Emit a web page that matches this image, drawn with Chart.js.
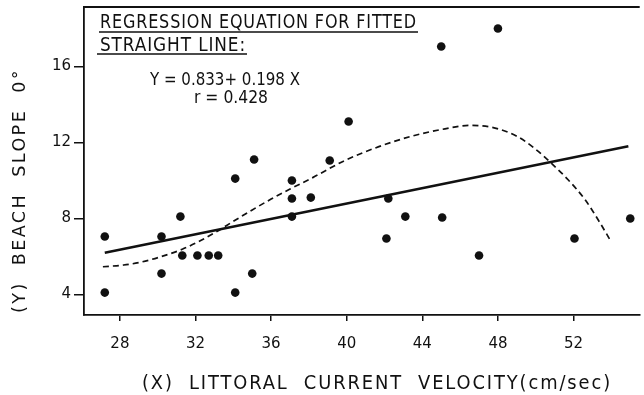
<!DOCTYPE html>
<html>
<head>
<meta charset="utf-8">
<script src="https://cdn.jsdelivr.net/npm/chart.js@4.4.1/dist/chart.umd.min.js"></script>
<style>
  html, body { margin: 0; padding: 0; background: #fff; }
  #wrap { width: 644px; height: 395px; }
</style>
</head>
<body>
<div id="wrap"><canvas id="chart"></canvas></div>
<script>
// observed beach slope vs littoral current velocity
const velocity = [27.2, 27.2, 30.2, 30.2, 31.2, 31.3, 32.1, 32.7, 33.2, 34.1, 34.1, 35.0, 35.1, 37.1,
  37.1, 37.1, 38.1, 39.1, 40.1, 42.1, 42.2, 43.1, 45.0, 45.05, 47.0, 48.0, 52.05, 55.0];
const slope = [7.05, 4.1, 7.05, 5.1, 8.1, 6.05, 6.05, 6.05, 6.05, 4.1, 10.1, 5.1, 11.1, 10.0,
  9.05, 8.1, 9.1, 11.05, 13.1, 6.95, 9.05, 8.1, 17.05, 8.05, 6.05, 18.0, 6.95, 8.0];

// fitted straight line, end points as drawn
const lineX = [27.2, 54.9];
const lineY = [6.2, 11.8];

// dashed curve
const curveX = [27.1, 28.2, 29.1, 30.2, 31.3, 32.2, 33.1, 34.0, 35.0, 36.0, 37.0, 38.2, 39.9,
  41.7, 43.4, 45.2, 46.5, 47.8, 49.0, 49.9, 50.8, 51.7, 52.6, 53.4, 53.9];
const curveY = [5.46, 5.55, 5.7, 6.0, 6.38, 6.8, 7.3, 7.85, 8.45, 9.02, 9.55, 10.15, 11.05,
  11.78, 12.32, 12.72, 12.9, 12.77, 12.33, 11.72, 10.93, 10.05, 9.0, 7.77, 6.93];

const xTicks = [28, 32, 36, 40, 44, 48, 52];
const yTicks = [4, 8, 12, 16];

const xTitle = '(X)  LITTORAL  CURRENT  VELOCITY(cm/sec)';
const yTitle = '(Y)  BEACH  SLOPE  0\u00B0';
const boxLines = ['REGRESSION EQUATION FOR FITTED', 'STRAIGHT LINE:', 'Y = 0.833+ 0.198 X', 'r = 0.428'];

const ink = '#111';
const face = '"DejaVu Sans", sans-serif';

const toXY = (xs, ys) => xs.map((x, i) => ({x, y: ys[i]}));

// titles and the equation box, drawn like the hand lettering of the original
const paperText = {
  id: 'paperText',
  afterDraw(chart) {
    const {ctx, chartArea: a} = chart;
    ctx.save();
    ctx.fillStyle = ink;
    ctx.strokeStyle = ink;

    // top frame line
    ctx.lineWidth = 1.8;
    ctx.beginPath();
    ctx.moveTo(a.left, a.top);
    ctx.lineTo(a.right, a.top);
    ctx.stroke();

    ctx.textBaseline = 'alphabetic';
    ctx.textAlign = 'left';
    ctx.letterSpacing = '1px';
    ctx.font = '19px ' + face;
    ctx.fillText(boxLines[0], a.left + 16, a.top + 21, 317);
    ctx.fillText(boxLines[1], a.left + 16, a.top + 44, 146);
    ctx.lineWidth = 1.3;
    ctx.beginPath();
    ctx.moveTo(a.left + 15, a.top + 25);
    ctx.lineTo(a.left + 334, a.top + 25);
    ctx.moveTo(a.left + 13, a.top + 47);
    ctx.lineTo(a.left + 163, a.top + 47);
    ctx.stroke();

    ctx.letterSpacing = '0px';
    ctx.font = '18px ' + face;
    ctx.textAlign = 'center';
    ctx.fillText(boxLines[2], a.left + 141, a.top + 78, 150);
    ctx.fillText(boxLines[3], a.left + 147, a.top + 96, 74);

    // axis titles
    ctx.textAlign = 'left';
    ctx.letterSpacing = '2px';
    ctx.font = '19px ' + face;
    ctx.fillText(xTitle, 142, 389, 470);

    ctx.translate(24.5, 313);
    ctx.rotate(-Math.PI / 2);
    ctx.letterSpacing = '2.5px';
    ctx.font = '18px ' + face;
    ctx.fillText(yTitle, 0, 0, 245);
    ctx.restore();
  }
};

new Chart(document.getElementById('chart'), {
  type: 'scatter',
  data: {
    datasets: [
      {
        data: toXY(velocity, slope),
        pointRadius: 4.3,
        pointBackgroundColor: ink,
        pointBorderWidth: 0,
        showLine: false,
        order: 0,
      },
      {
        data: toXY(lineX, lineY),
        showLine: true,
        borderColor: ink,
        borderWidth: 2.6,
        pointRadius: 0,
        order: 1,
      },
      {
        data: toXY(curveX, curveY),
        showLine: true,
        borderColor: ink,
        borderWidth: 1.7,
        borderDash: [6, 4],
        cubicInterpolationMode: 'monotone',
        pointRadius: 0,
        order: 2,
      },
    ],
  },
  options: {
    responsive: true,
    maintainAspectRatio: false,
    animation: false,
    events: [],
    layout: { padding: { top: 7, right: 1, left: 0, bottom: 0 } },
    plugins: {
      legend: { display: false },
      tooltip: { enabled: false },
    },
    scales: {
      x: {
        type: 'linear',
        min: 26.1,
        max: 55.5,
        afterBuildTicks: s => { s.ticks = xTicks.map(v => ({value: v})); },
        afterFit: s => { s.height = 80; s.paddingLeft = 0; s.paddingRight = 0; },
        grid: { drawOnChartArea: false, drawTicks: true, tickLength: 6, color: ink, lineWidth: 1.5 },
        border: { color: ink, width: 1.8 },
        ticks: { color: ink, font: { family: face, size: 15 }, padding: 14, maxRotation: 0 },
      },
      y: {
        type: 'linear',
        min: 2.92,
        max: 19.13,
        afterBuildTicks: s => { s.ticks = yTicks.map(v => ({value: v})); },
        afterFit: s => { s.width = 84; s.paddingTop = 0; s.paddingBottom = 0; },
        grid: { drawOnChartArea: false, drawTicks: true, tickLength: 10, color: ink, lineWidth: 1.5 },
        border: { color: ink, width: 1.8 },
        ticks: { color: ink, font: { family: face, size: 15 }, padding: 3 },
      },
    },
  },
  plugins: [paperText],
});
</script>
</body>
</html>
